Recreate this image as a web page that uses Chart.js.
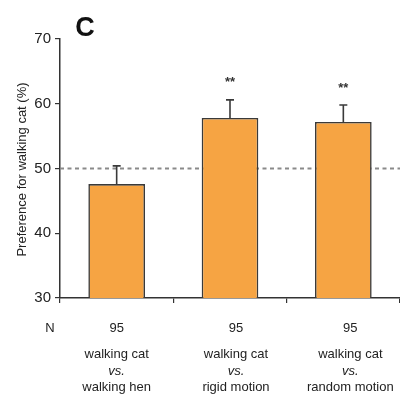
<!DOCTYPE html>
<html>
<head>
<meta charset="utf-8">
<script src="https://cdn.jsdelivr.net/npm/chart.js@4"></script>
<style>
html,body{margin:0;padding:0;background:#fff;}
#wrap{width:400px;height:396px;position:relative;}
</style>
</head>
<body>
<div id="wrap"><canvas id="c" width="400" height="396"></canvas></div>
<script>
const categories = ["walking cat vs. walking hen", "walking cat vs. rigid motion", "walking cat vs. random motion"];
const labelTop = ["walking cat", "walking cat", "walking cat"];
const labelMid = ["vs.", "vs.", "vs."];
const labelBottom = ["walking hen", "rigid motion", "random motion"];
const preference = [47.6, 57.8, 57.2];
const errorUp = [2.8, 2.8, 2.6];
const sampleN = ["95", "95", "95"];
const significance = ["", "**", "**"];
const yTicks = [30, 40, 50, 60, 70];
const chanceLevel = 50;
const yTitle = "Preference for walking cat (%)";

const FONT = "'Liberation Sans', Arial, sans-serif";

const overlay = {
  id: 'overlay',
  beforeDatasetsDraw(chart) {
    const {ctx, chartArea, scales} = chart;
    const y = scales.y.getPixelForValue(chanceLevel);
    ctx.save();
    ctx.strokeStyle = '#8a8a8a';
    ctx.lineWidth = 2;
    ctx.setLineDash([4, 3.5]);
    ctx.beginPath();
    ctx.moveTo(chartArea.left, y);
    ctx.lineTo(chartArea.right, y);
    ctx.stroke();
    ctx.restore();
  },
  afterDatasetsDraw(chart) {
    const {ctx, scales, chartArea} = chart;
    const meta = chart.getDatasetMeta(0);
    ctx.save();
    meta.data.forEach((bar, i) => {
      const x = bar.x;
      const yTop = bar.y;
      const yErr = scales.y.getPixelForValue(preference[i] + errorUp[i]);
      ctx.strokeStyle = '#3a3a3a';
      ctx.lineWidth = 1.6;
      ctx.beginPath();
      ctx.moveTo(x, yTop);
      ctx.lineTo(x, yErr);
      ctx.moveTo(x - 4, yErr);
      ctx.lineTo(x + 4, yErr);
      ctx.stroke();
      if (significance[i]) {
        ctx.fillStyle = '#333';
        ctx.font = 'bold 13px ' + FONT;
        ctx.textAlign = 'center';
        ctx.textBaseline = 'middle';
        ctx.fillText(significance[i], x, yErr - 17);
      }
    });
    // y-axis title
    ctx.save();
    ctx.translate(22, (chartArea.top + chartArea.bottom) / 2 + 1);
    ctx.rotate(-Math.PI / 2);
    ctx.font = '13px ' + FONT;
    ctx.fillStyle = '#222';
    ctx.textAlign = 'center';
    ctx.textBaseline = 'middle';
    ctx.fillText(yTitle, 0, 0);
    ctx.restore();
    // bottom texts
    const shifts = [0, 6, 7];
    const base = scales.y.getPixelForValue(30);
    ctx.fillStyle = '#222';
    ctx.textAlign = 'center';
    ctx.textBaseline = 'middle';
    ctx.font = '13px ' + FONT;
    ctx.fillText('N', 50, base + 30);
    meta.data.forEach((bar, i) => {
      const x = bar.x + shifts[i];
      ctx.font = '13px ' + FONT;
      ctx.fillText(sampleN[i], x, base + 30);
      ctx.fillText(labelTop[i], x, base + 56);
      ctx.font = 'italic 13px ' + FONT;
      ctx.fillText(labelMid[i], x, base + 73);
      ctx.font = '13px ' + FONT;
      ctx.fillText(labelBottom[i], x, base + 89);
    });
    // panel letter
    ctx.font = 'bold 27px ' + FONT;
    ctx.fillStyle = '#111';
    ctx.textAlign = 'center';
    ctx.textBaseline = 'alphabetic';
    ctx.fillText('C', 85, 36);
    ctx.restore();
  }
};

new Chart(document.getElementById('c'), {
  type: 'bar',
  data: {
    labels: categories,
    datasets: [{
      data: preference,
      backgroundColor: '#F6A443',
      borderColor: '#3a3a3a',
      borderWidth: 1.6,
      borderSkipped: 'bottom',
      categoryPercentage: 1.0,
      barPercentage: 0.5
    }]
  },
  options: {
    responsive: false,
    animation: false,
    devicePixelRatio: 1,
    layout: { padding: { top: 39, right: 0, left: 0, bottom: 0 } },
    plugins: { legend: { display: false }, tooltip: { enabled: false } },
    scales: {
      x: {
        ticks: { display: false },
        grid: { drawOnChartArea: false, tickLength: 5, color: '#333', lineWidth: 1.2 },
        border: { color: '#333', width: 1.5 },
        afterFit(scale) { scale.height = 98; }
      },
      y: {
        min: 30,
        max: 70,
        afterBuildTicks(scale) { scale.ticks = yTicks.map(v => ({ value: v })); },
        ticks: { font: { family: FONT, size: 15 }, color: '#222', padding: 4 },
        grid: { drawOnChartArea: false, tickLength: 5, color: '#333', lineWidth: 1.2 },
        border: { color: '#333', width: 1.5 },
        title: { display: false },
        afterFit(scale) { scale.width = 60; }
      }
    }
  },
  plugins: [overlay]
});
</script>
</body>
</html>
